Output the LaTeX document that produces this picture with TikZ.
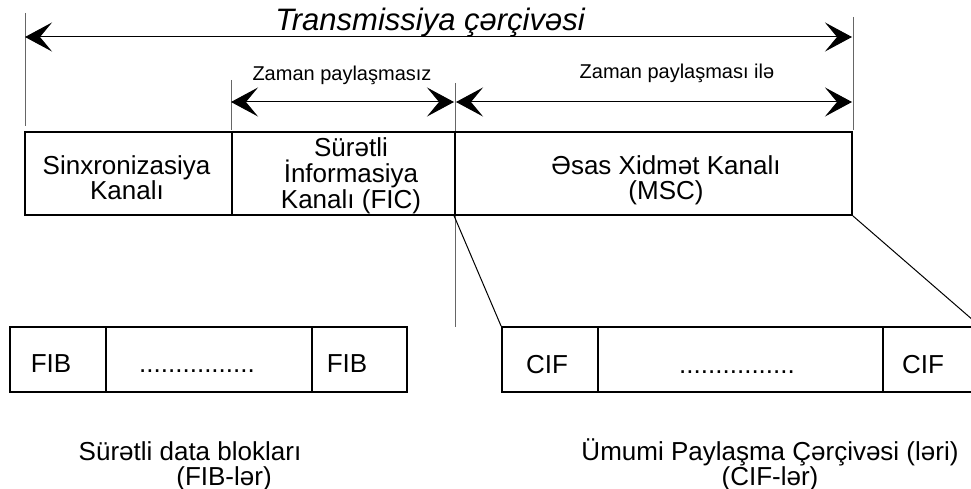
\documentclass[tikz,border=0pt]{standalone}
\usepackage{fontspec}
\setmainfont{Liberation Sans}
\usetikzlibrary{arrows.meta}
\tikzset{
  box/.style={draw, line width=1.8pt, inner sep=0pt, rectangle, minimum height=#1},
  guide/.style={draw=black!60, line width=1pt},
  dimline/.style={line width=1pt, {Stealth[length=27pt,width=29pt,inset=12pt]}-{Stealth[length=27pt,width=29pt,inset=12pt]}},
  bigtxt/.style={font=\fontsize{26}{25}\selectfont, inner sep=0pt, anchor=base},
  midtxt/.style={font=\fontsize{20}{24}\selectfont, inner sep=0pt, anchor=base},
  titletxt/.style={font=\fontsize{31}{34}\selectfont\itshape, inner sep=0pt, anchor=base},
  slant/.style={line width=1pt},
}
\begin{document}
\begin{tikzpicture}[x=1pt,y=-1pt]
\useasboundingbox (0,0) rectangle (971,489);
\clip (0,0) rectangle (971,489);

% guide lines
\coordinate (g1a) at (25,13);   \coordinate (g1b) at (25,126);
\coordinate (g2a) at (853,17);  \coordinate (g2b) at (853,130);
\coordinate (g3a) at (231,80);  \coordinate (g3b) at (231,130);
\coordinate (g4a) at (455,83);  \coordinate (g4b) at (455,327);
\draw[guide] (g1a) -- (g1b);
\draw[guide] (g2a) -- (g2b);
\draw[guide] (g3a) -- (g3b);
\draw[guide] (g4a) -- (g4b);

% dimension arrows
\coordinate (a1l) at (25,37);  \coordinate (a1r) at (852,37);
\coordinate (a2l) at (231,102); \coordinate (a2r) at (454,102);
\coordinate (a3l) at (456,102); \coordinate (a3r) at (852,102);
\draw[dimline] (a1l) -- (a1r);
\draw[dimline] (a2l) -- (a2r);
\draw[dimline] (a3l) -- (a3r);

\node[titletxt] (title) at (430,31) {Transmissiya çərçivəsi};
\node[midtxt] (lab1) at (342,81) {Zaman paylaşmasız};
\node[midtxt] (lab2) at (677,79) {Zaman paylaşması ilə};

% top boxes
\node[box=83pt, minimum width=207pt] (sync) at (128.5,173.5) {};
\node[box=83pt, minimum width=223pt] (fic) at (343.5,173.5) {};
\node[box=83pt, minimum width=397pt] (msc) at (653.5,173.5) {};

\node[bigtxt] (s1) at (126.5,175) {Sinxronizasiya};
\node[bigtxt] (s2) at (127,200) {Kanalı};
\node[bigtxt] (f1) at (351,157) {Sürətli};
\node[bigtxt] (f2) at (351,182.5) {İnformasiya};
\node[bigtxt] (f3) at (351,208) {Kanalı (FIC)};
\node[bigtxt] (m1) at (666,175) {Əsas Xidmət Kanalı};
\node[bigtxt] (m2) at (666,200) {(MSC)};

% bottom left boxes
\node[box=65pt, minimum width=96pt] (fib1) at (58,359.5) {};
\node[box=65pt, minimum width=206pt] (fibd) at (209,359.5) {};
\node[box=65pt, minimum width=95pt] (fib2) at (359.5,359.5) {};
\node[bigtxt] (fibt1) at (51,372) {FIB};
\node[bigtxt] (fibt2) at (197,372) {................};
\node[bigtxt] (fibt3) at (347,372) {FIB};

% bottom right boxes
\node[box=65pt, minimum width=96pt] (cif1) at (550,359.5) {};
\node[box=65pt, minimum width=285pt] (cifd) at (740.5,359.5) {};
\node[box=65pt, minimum width=96pt] (cif2) at (931,359.5) {};
\node[bigtxt] (cift1) at (547,373) {CIF};
\node[bigtxt] (cift2) at (737,373) {................};
\node[bigtxt] (cift3) at (923,373) {CIF};

% expansion lines
\draw[slant] (msc.south west) -- (cif1.north west);
\draw[slant] (msc.south east) -- (cif2.north east);

% captions
\node[bigtxt] (c1) at (190,460) {Sürətli data blokları};
\node[bigtxt] (c2) at (224,485) {(FIB-lər)};
\node[bigtxt] (c3) at (770,460) {Ümumi Paylaşma Çərçivəsi (ləri)};
\node[bigtxt] (c4) at (770,485) {(CIF-lər)};
\end{tikzpicture}
\end{document}
